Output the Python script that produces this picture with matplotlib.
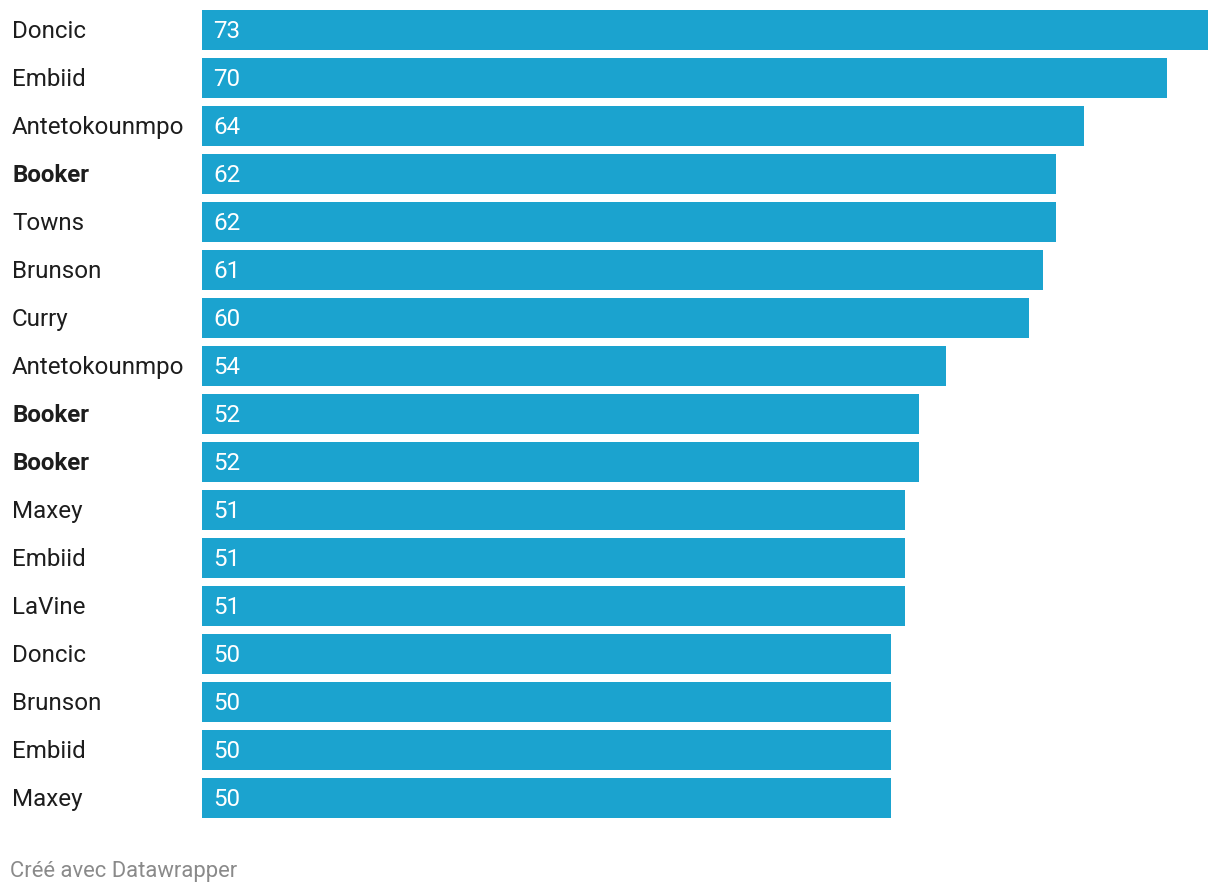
import matplotlib
matplotlib.use("Agg")
import matplotlib.pyplot as plt
from matplotlib.transforms import offset_copy

names = ["Doncic", "Embiid", "Antetokounmpo", "Booker", "Towns", "Brunson", "Curry",
         "Antetokounmpo", "Booker", "Booker", "Maxey", "Embiid", "LaVine", "Doncic",
         "Brunson", "Embiid", "Maxey"]
values = [73, 70, 64, 62, 62, 61, 60, 54, 52, 52, 51, 51, 51, 50, 50, 50, 50]
bold = [False, False, False, True, False, False, False, False, True, True,
        False, False, False, False, False, False, False]

plt.rcParams['font.family'] = ['Roboto', 'DejaVu Sans']
W, H = 1220, 894
fig = plt.figure(figsize=(W / 100, H / 100), dpi=100)

n = len(values)
h = 40 / 48
top_px = 10
ax_h_px = (n - 1 + h) * 48
left_px, right_px = 202, 1208
ax = fig.add_axes([left_px / W, 1 - (top_px + ax_h_px) / H,
                   (right_px - left_px) / W, ax_h_px / H])
pos = list(range(n))
ax.barh(pos, values, height=h, color="#1ba3cf", edgecolor="none")
ax.set_xlim(0, 73)
ax.set_ylim(n - 1 + h / 2, -h / 2)
ax.axis("off")

tr = offset_copy(ax.transData, fig=fig, x=0, y=-1.5, units="dots")
for i, (nm, v, b) in enumerate(zip(names, values, bold)):
    ax.text(-190 / 1006 * 73, i, nm, ha="left", va="center", fontsize=17.4,
            color="#1d1d1d", fontweight="bold" if b else "normal", transform=tr)
    ax.text(11 / 1006 * 73, i, str(v), ha="left", va="center", fontsize=17.4,
            color="white", transform=tr)

fig.text(10 / W, 1 - 872 / H, "Créé avec Datawrapper", ha="left", va="center",
         fontsize=15.8, color="#8a8a8a")

fig.savefig("out.png", dpi=100)
